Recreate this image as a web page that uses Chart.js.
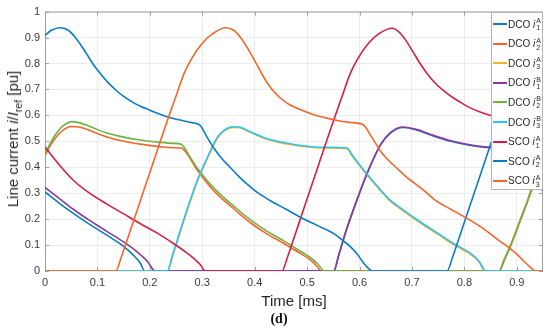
<!DOCTYPE html>
<html>
<head>
<meta charset="utf-8">
<script src="https://cdn.jsdelivr.net/npm/chart.js@4/dist/chart.umd.min.js"></script>
<style>
  body { margin: 0; background: #fff; }
  #wrap { position: relative; width: 550px; height: 330px; font-family: "Liberation Sans", Arial, sans-serif; color: #262626; }
  #ytitle { position: absolute; left: 14px; top: 139px; transform: translate(-50%, -50%) rotate(-90deg); white-space: nowrap; font-size: 15px; }
  #ytitle sub { font-size: 10.5px; }
  #xtitle { position: absolute; left: 294px; top: 300px; transform: translate(-50%, -50%); white-space: nowrap; font-size: 15px; }
  #caption { position: absolute; left: 279px; top: 319px; transform: translate(-50%, -50%); font: bold 14px "Liberation Serif", "Times New Roman", serif; color: #111; }
  #legend { position: absolute; left: 491px; top: 12px; width: 50px; height: 176px; background: #fff; border: 1px solid #b4b4b4; font-size: 10px; }
  .row { position: absolute; left: 0; height: 20px; width: 50px; display: flex; align-items: center; }
  .swatch { width: 14px; height: 2px; margin-left: 1px; margin-right: 1px; }
  .ss { display: inline-flex; flex-direction: column; font-size: 7px; line-height: 7px; vertical-align: middle; margin-left: 1px; }
</style>
</head>
<body>
<div id="wrap">
  <canvas id="chart" width="550" height="330"></canvas>
  <div id="ytitle">Line current <i>i</i>/<i>I</i><sub>ref</sub> [pu]</div>
  <div id="xtitle">Time [ms]</div>
  <div id="caption">(d)</div>
  <div id="legend"></div>
</div>
<script>
// [time in ms, current in pu]
const dcoI1A = [[0,0.305],[0.027,0.262],[0.054,0.222],[0.085,0.18],[0.118,0.138],[0.15,0.095],[0.168,0.062],[0.182,0.03],[0.19,0],
  [0.551,0],[0.56,0.058],[0.575,0.158],[0.596,0.278],[0.615,0.378],[0.64,0.485],[0.66,0.533],[0.683,0.553],[0.71,0.543],[0.736,0.524],
  [0.774,0.5],[0.81,0.485],[0.85,0.475],[0.885,0.468],[0.9,0.435],[0.915,0.39],[0.93,0.35],[0.95,0.31]];
const dcoI2A = [[0,0.445],[0.012,0.49],[0.025,0.525],[0.038,0.548],[0.051,0.557],[0.065,0.555],[0.08,0.546],[0.1,0.53],[0.118,0.517],
  [0.15,0.5],[0.182,0.489],[0.22,0.479],[0.245,0.475],[0.26,0.474],[0.268,0.46],[0.278,0.43],[0.29,0.39],[0.315,0.325],[0.34,0.274],
  [0.36,0.24],[0.392,0.186],[0.424,0.142],[0.455,0.107],[0.48,0.076],[0.506,0.043],[0.518,0.02],[0.527,0],
  [0.867,0],[0.876,0.04],[0.891,0.11],[0.906,0.19],[0.921,0.27],[0.936,0.355],[0.95,0.435]];
const dcoI3A = [[0,0],[0.234,0],[0.244,0.06],[0.259,0.156],[0.275,0.255],[0.291,0.347],[0.309,0.43],[0.329,0.512],[0.343,0.541],
  [0.359,0.553],[0.371,0.552],[0.391,0.535],[0.418,0.512],[0.451,0.494],[0.482,0.483],[0.533,0.474],[0.576,0.471],[0.585,0.446],
  [0.6,0.406],[0.615,0.368],[0.637,0.316],[0.659,0.268],[0.685,0.229],[0.717,0.184],[0.749,0.142],[0.78,0.101],[0.812,0.064],
  [0.828,0.035],[0.839,0],[0.95,0]];
const dcoI1B = [[0,0.322],[0.027,0.28],[0.054,0.238],[0.085,0.195],[0.118,0.153],[0.15,0.112],[0.175,0.075],[0.195,0.038],[0.21,0],
  [0.551,0],[0.56,0.06],[0.575,0.16],[0.596,0.28],[0.615,0.38],[0.64,0.487],[0.66,0.535],[0.683,0.555],[0.71,0.545],[0.736,0.526],
  [0.774,0.502],[0.81,0.487],[0.85,0.477],[0.89,0.472],[0.9,0.447],[0.915,0.405],[0.93,0.37],[0.95,0.333]];
const dcoI2B = [[0,0.452],[0.012,0.5],[0.025,0.54],[0.038,0.565],[0.051,0.576],[0.065,0.572],[0.08,0.562],[0.1,0.545],[0.118,0.532],
  [0.15,0.516],[0.182,0.505],[0.22,0.496],[0.245,0.492],[0.258,0.49],[0.265,0.478],[0.275,0.445],[0.29,0.398],[0.315,0.335],
  [0.34,0.285],[0.36,0.25],[0.392,0.197],[0.424,0.153],[0.455,0.117],[0.48,0.085],[0.506,0.052],[0.52,0.028],[0.533,0],
  [0.866,0],[0.875,0.04],[0.89,0.11],[0.905,0.19],[0.92,0.27],[0.935,0.36],[0.95,0.44]];
const dcoI3B = [[0,0],[0.233,0],[0.243,0.06],[0.258,0.156],[0.274,0.255],[0.29,0.347],[0.308,0.43],[0.328,0.513],[0.342,0.543],
  [0.358,0.556],[0.37,0.555],[0.39,0.538],[0.417,0.515],[0.45,0.497],[0.481,0.486],[0.532,0.477],[0.576,0.474],[0.585,0.45],
  [0.6,0.41],[0.615,0.372],[0.637,0.32],[0.659,0.272],[0.685,0.233],[0.717,0.188],[0.749,0.146],[0.78,0.105],[0.812,0.068],
  [0.828,0.038],[0.841,0],[0.95,0]];
const scoI1A = [[0,0.478],[0.027,0.41],[0.054,0.35],[0.085,0.3],[0.118,0.258],[0.15,0.22],[0.182,0.182],[0.215,0.145],[0.245,0.106],
  [0.265,0.078],[0.283,0.05],[0.296,0.025],[0.306,0],[0.452,0],[0.462,0.05],[0.477,0.14],[0.487,0.2],[0.507,0.32],[0.527,0.44],
  [0.547,0.56],[0.567,0.675],[0.582,0.76],[0.597,0.82],[0.617,0.878],[0.637,0.915],[0.662,0.936],[0.675,0.922],[0.688,0.89],
  [0.702,0.845],[0.717,0.795],[0.732,0.753],[0.748,0.717],[0.765,0.688],[0.78,0.666],[0.796,0.646],[0.812,0.628],[0.83,0.613],
  [0.85,0.6],[0.87,0.588],[0.9,0.575],[0.922,0.565],[0.935,0.52],[0.95,0.47]];
const scoI2A = [[0,0.908],[0.012,0.928],[0.029,0.938],[0.043,0.93],[0.056,0.905],[0.068,0.872],[0.08,0.835],[0.092,0.797],[0.105,0.762],
  [0.12,0.727],[0.137,0.694],[0.15,0.673],[0.166,0.652],[0.182,0.635],[0.2,0.62],[0.213,0.609],[0.23,0.597],[0.245,0.588],
  [0.262,0.58],[0.28,0.572],[0.295,0.563],[0.308,0.52],[0.322,0.474],[0.338,0.432],[0.354,0.398],[0.37,0.364],[0.385,0.336],
  [0.405,0.303],[0.43,0.271],[0.46,0.238],[0.487,0.207],[0.52,0.175],[0.551,0.144],[0.568,0.118],[0.583,0.093],[0.597,0.062],
  [0.608,0.03],[0.617,0.01],[0.624,0],[0.767,0],[0.777,0.05],[0.792,0.14],[0.822,0.32],[0.842,0.44],[0.862,0.56],[0.882,0.675],
  [0.897,0.76],[0.912,0.82],[0.932,0.878],[0.95,0.912]];
const scoI3A = [[0,0],[0.135,0],[0.145,0.05],[0.16,0.14],[0.19,0.32],[0.21,0.44],[0.23,0.56],[0.25,0.675],[0.265,0.76],[0.28,0.82],
  [0.3,0.878],[0.32,0.915],[0.344,0.938],[0.36,0.928],[0.373,0.9],[0.386,0.86],[0.398,0.818],[0.417,0.748],[0.432,0.703],[0.449,0.667],
  [0.465,0.643],[0.481,0.627],[0.513,0.602],[0.551,0.583],[0.58,0.573],[0.607,0.564],[0.622,0.52],[0.64,0.462],[0.656,0.425],
  [0.672,0.395],[0.688,0.365],[0.704,0.34],[0.722,0.312],[0.745,0.272],[0.775,0.237],[0.806,0.202],[0.835,0.165],[0.863,0.122],
  [0.885,0.09],[0.9,0.065],[0.91,0.045],[0.924,0.018],[0.936,0],[0.95,0]];

const seriesData = [dcoI1A, dcoI2A, dcoI3A, dcoI1B, dcoI2B, dcoI3B, scoI1A, scoI2A, scoI3A];
const seriesMode = ['DCO', 'DCO', 'DCO', 'DCO', 'DCO', 'DCO', 'SCO', 'SCO', 'SCO'];
const seriesSub = ['1', '2', '3', '1', '2', '3', '1', '2', '3'];
const seriesSup = ['A', 'A', 'A', 'B', 'B', 'B', 'A', 'A', 'A'];
const seriesColors = ['#0a7cc6', '#f5652a', '#f3b530', '#8a3b9d', '#6db33f', '#2bc4f0', '#d21f46', '#0a7cc6', '#f5652a'];

const tickFont = { family: '"Liberation Sans", Arial, sans-serif', size: 11 };
const tickColor = '#3a3a3a';
const boxColor = '#a0a0a0';

// box round the plot and small inward ticks, like the original
const boxPlugin = {
    id: 'box',
    beforeDatasetsDraw(chart) {
        const { ctx, chartArea: a, scales } = chart;
        ctx.save();
        ctx.strokeStyle = boxColor;
        ctx.lineWidth = 1;
        ctx.strokeRect(a.left + 0.5, a.top + 0.5, a.right - a.left - 1, a.bottom - a.top - 1);
        ctx.beginPath();
        scales.x.ticks.forEach(t => {
            const x = Math.round(scales.x.getPixelForValue(t.value)) + 0.5;
            ctx.moveTo(x, a.bottom); ctx.lineTo(x, a.bottom - 4);
            ctx.moveTo(x, a.top); ctx.lineTo(x, a.top + 4);
        });
        scales.y.ticks.forEach(t => {
            const y = Math.round(scales.y.getPixelForValue(t.value)) + 0.5;
            ctx.moveTo(a.left, y); ctx.lineTo(a.left + 4, y);
            ctx.moveTo(a.right, y); ctx.lineTo(a.right - 4, y);
        });
        ctx.stroke();
        ctx.restore();
    }
};

const datasets = seriesData.map((pts, i) => ({
    label: seriesMode[i] + ' i' + seriesSub[i] + seriesSup[i],
    data: pts.map(p => ({ x: p[0], y: p[1] })),
    borderColor: seriesColors[i],
    backgroundColor: seriesColors[i],
    borderWidth: 1.6,
    pointRadius: 0,
    fill: false,
    cubicInterpolationMode: 'monotone',
    order: seriesData.length - i
}));

new Chart(document.getElementById('chart').getContext('2d'), {
    type: 'line',
    data: { datasets },
    options: {
        responsive: false,
        animation: false,
        devicePixelRatio: 1,
        layout: { padding: { top: 9, right: 7, left: 0, bottom: 0 } },
        plugins: { legend: { display: false }, tooltip: { enabled: false } },
        scales: {
            x: {
                type: 'linear',
                min: 0,
                max: 0.95,
                afterFit: s => { s.height = 59; },
                ticks: {
                    stepSize: 0.1, includeBounds: false, autoSkip: false, maxRotation: 0,
                    padding: 5, color: tickColor, font: tickFont,
                    callback: v => String(+v.toFixed(2))
                },
                grid: { color: '#ececec', drawTicks: false },
                border: { display: false }
            },
            y: {
                min: 0,
                max: 1,
                afterFit: s => { s.width = 45; },
                ticks: {
                    stepSize: 0.1, autoSkip: false, padding: 5, color: tickColor, font: tickFont,
                    callback: v => String(+v.toFixed(2))
                },
                grid: { color: '#ececec', drawTicks: false },
                border: { display: false }
            }
        }
    },
    plugins: [boxPlugin]
});

// legend with super/subscripts
const legend = document.getElementById('legend');
seriesData.forEach((_, i) => {
    const row = document.createElement('div');
    row.className = 'row';
    row.style.top = (1 + i * 19.6) + 'px';
    row.innerHTML = '<span class="swatch" style="background:' + seriesColors[i] + '"></span>' +
        '<span>' + seriesMode[i] + ' <i>i</i></span>' +
        '<span class="ss"><span>' + seriesSup[i] + '</span><span>' + seriesSub[i] + '</span></span>';
    legend.appendChild(row);
});
</script>
</body>
</html>
